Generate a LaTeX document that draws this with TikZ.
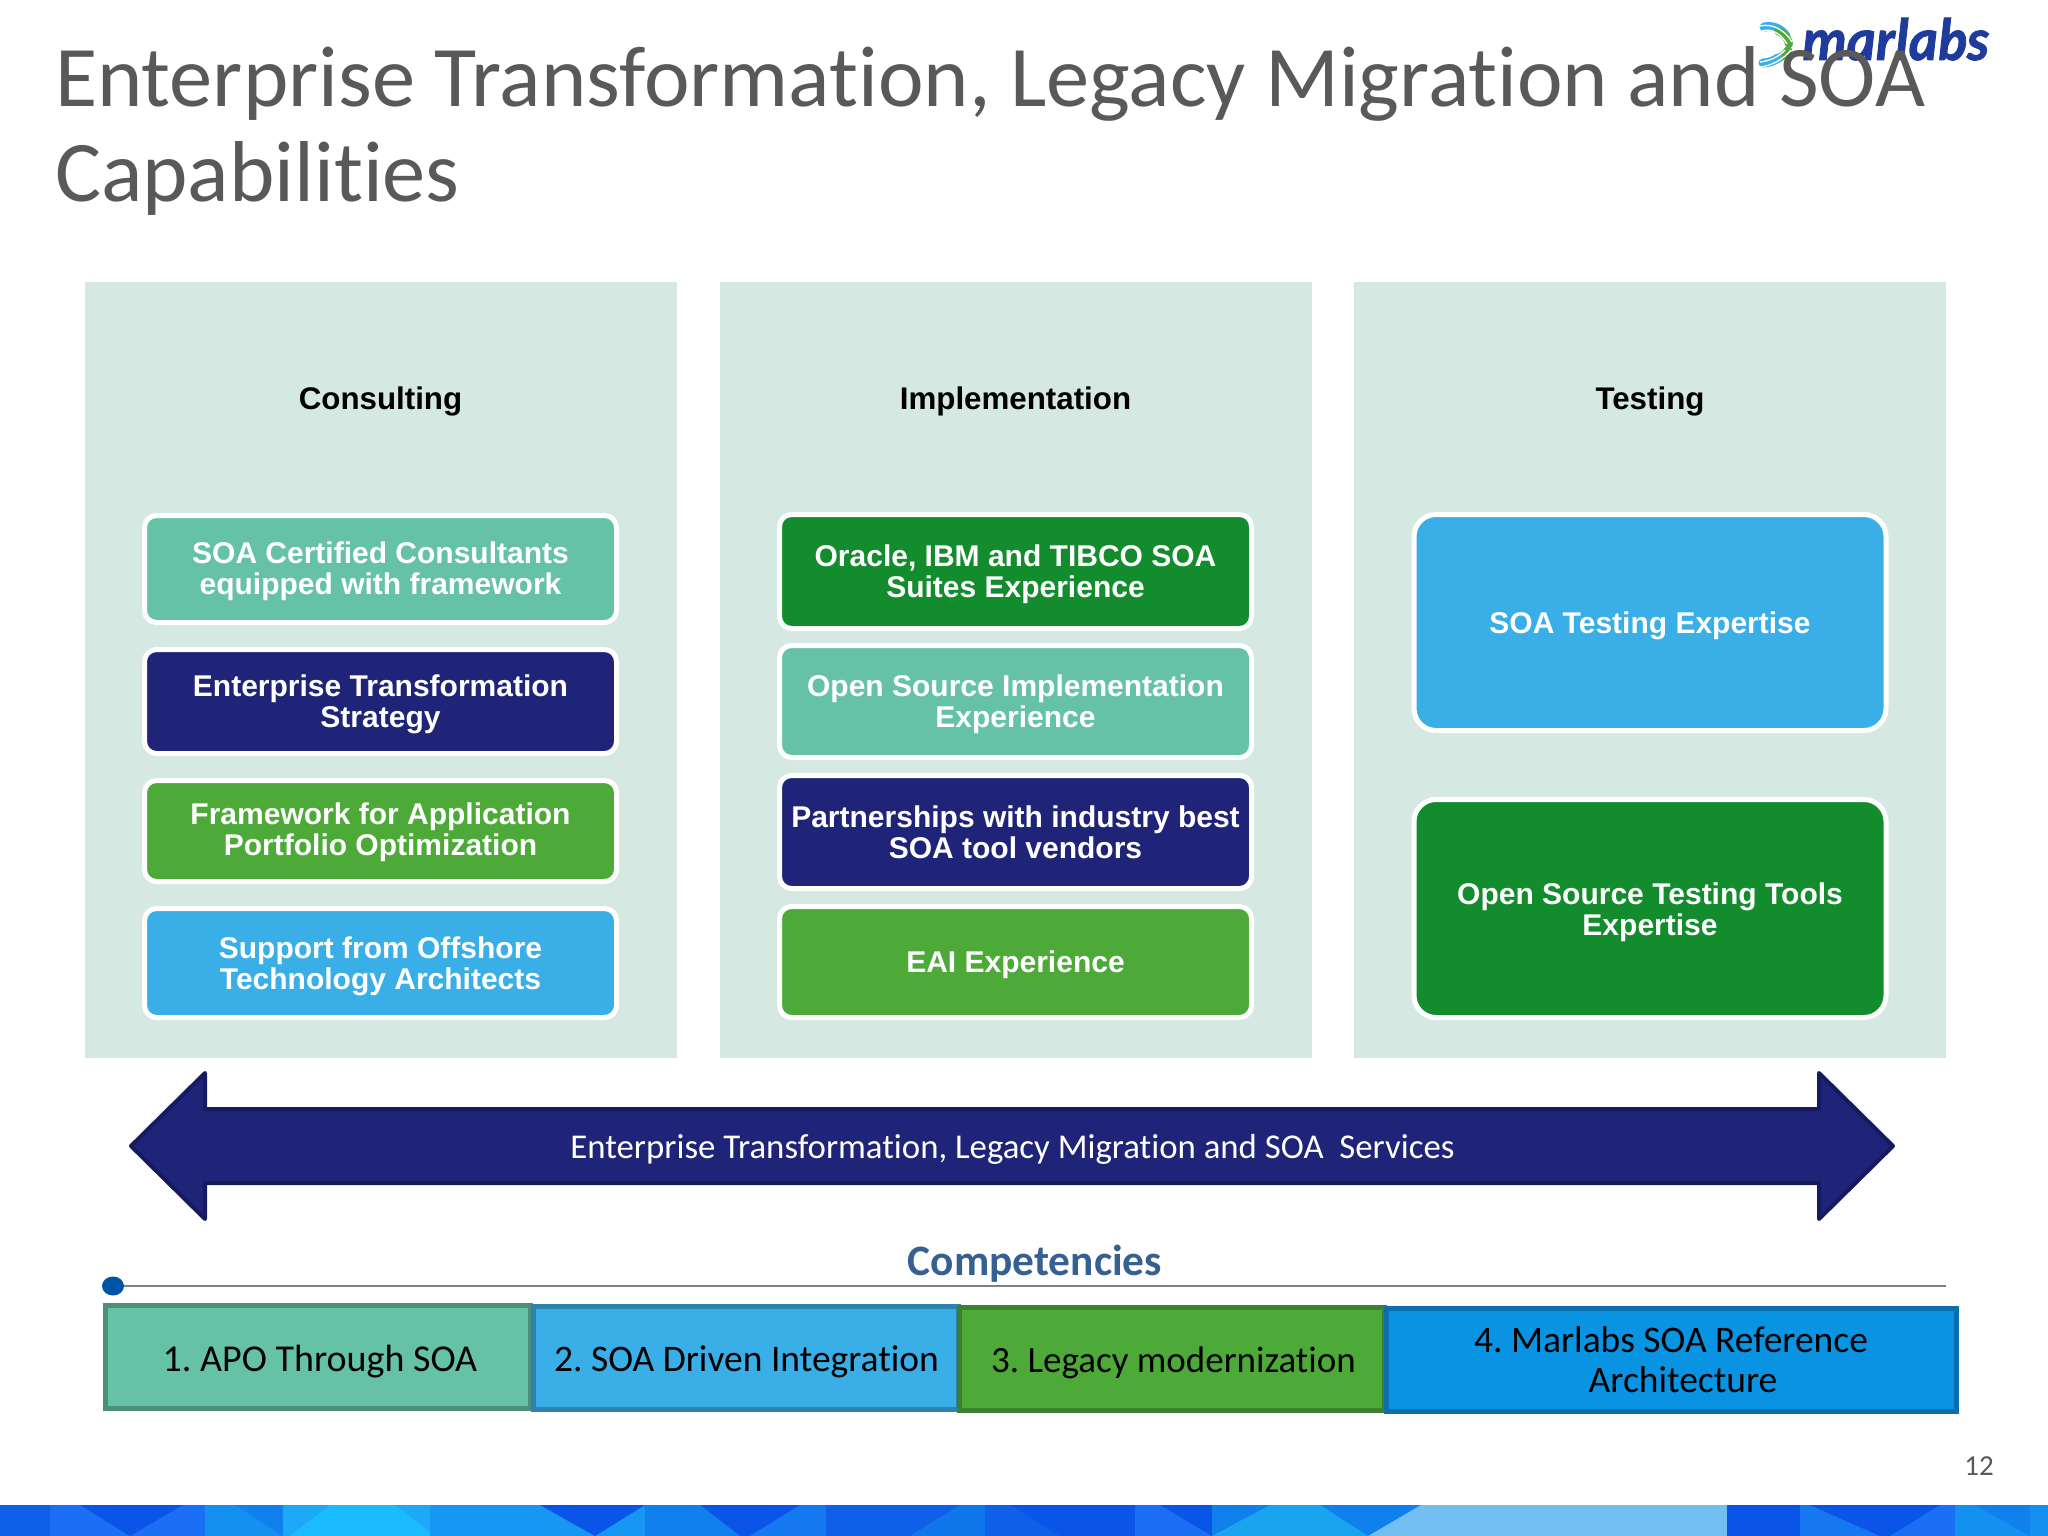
\documentclass[tikz,border=0pt]{standalone}
\usepackage{fontspec}
\usetikzlibrary{shapes.geometric}
\setmainfont{Liberation Sans}
\newfontfamily\carl[Ligatures=NoCommon]{Carlito}
\newfontfamily\logof[BoldItalicFeatures={FakeBold=1.5}]{Carlito}
\frenchspacing
\definecolor{panel}{HTML}{D5E8E1}
\definecolor{mint}{HTML}{66C2A7}
\definecolor{navy}{HTML}{1F2478}
\definecolor{navyedge}{HTML}{161A5E}
\definecolor{grass}{HTML}{4DAA38}
\definecolor{sky}{HTML}{3AAEE6}
\definecolor{forest}{HTML}{128C2C}
\definecolor{azure}{HTML}{0894E2}
\definecolor{titlegray}{HTML}{595959}
\definecolor{logoblue}{HTML}{1F3C9C}
\definecolor{comphead}{HTML}{366092}
\definecolor{dotblue}{HTML}{0054A6}
\definecolor{mintedge}{HTML}{4C8F7B}
\definecolor{skyedge}{HTML}{2C83AE}
\definecolor{grassedge}{HTML}{3C8030}
\definecolor{azureedge}{HTML}{0C6EAD}
\definecolor{bandA}{HTML}{0F5FE8}
\definecolor{bandB}{HTML}{1A6FF5}
\definecolor{bandC}{HTML}{0A55E8}
\definecolor{bandD}{HTML}{1490F0}
\definecolor{bandE}{HTML}{1EA8F8}
\definecolor{bandF}{HTML}{1ABBFF}
\definecolor{bandG}{HTML}{1080EC}
\definecolor{bandH}{HTML}{18A4EE}
\definecolor{bandL}{HTML}{72BEF0}
\tikzset{
  panelbox/.style={fill=panel,draw=none,minimum width=592pt,minimum height=776pt,outer sep=0pt,inner sep=0pt},
  head/.style={font=\fontsize{31.3}{31.4}\selectfont\bfseries,text=black,inner sep=0pt},
  card/.style={draw=white,line width=5pt,rounded corners=12pt,minimum width=472pt,outer sep=0pt,inner sep=0pt},
  cardtext/.style={text=white,align=center,inner sep=0pt,font=\fontsize{30}{31.4}\selectfont\bfseries},
  comp/.style={line width=5pt,minimum height=103pt,outer sep=0pt,inner sep=0pt},
  comptext/.style={text=black,align=center,inner sep=0pt,font=\carl\fontsize{37.5}{40}\selectfont},
}
\begin{document}
\begin{tikzpicture}[x=1pt,y=-1pt]
\useasboundingbox (0,0) rectangle (2048,1536);
\fill[white] (0,0) rectangle (2048,1536);
% bottom band
\fill[bandA] (0,1505) rectangle (50,1536);
\fill[bandB] (50,1505) rectangle (205,1536);
\fill[bandC] (80,1505) -- (183,1505) -- (130,1536) -- cycle;
\fill[bandD] (205,1505) rectangle (283,1536);
\fill[bandG] (235,1505) -- (283,1505) -- (283,1536) -- cycle;
\fill[bandE] (283,1505) rectangle (430,1536);
\fill[bandF] (330,1505) -- (395,1505) -- (435,1536) -- (290,1536) -- cycle;
\fill[bandD!70!bandE] (430,1505) rectangle (645,1536);
\fill[bandC] (540,1505) -- (645,1505) -- (595,1536) -- cycle;
\fill[bandG] (645,1505) rectangle (745,1536);
\fill[bandC] (700,1505) rectangle (826,1536);
\fill[bandG] (700,1505) -- (700,1536) -- (740,1536) -- cycle;
\fill[bandG!60!bandB] (750,1536) -- (800,1505) -- (826,1505) -- (826,1536) -- cycle;
\fill[bandA] (826,1505) rectangle (1135,1536);
\fill[bandG!70!bandA] (910,1536) -- (960,1505) -- (985,1505) -- (985,1536) -- cycle;
\fill[bandC] (1010,1505) -- (1135,1505) -- (1135,1536) -- (1060,1536) -- cycle;
\fill[bandB] (1135,1505) rectangle (1212,1536);
\fill[bandC] (1160,1505) -- (1212,1505) -- (1212,1536) -- cycle;
\fill[bandG] (1212,1505) rectangle (1421,1536);
\fill[bandH] (1212,1536) -- (1270,1505) -- (1320,1505) -- (1368,1536) -- cycle;
\fill[bandL] (1421,1505) -- (1727,1505) -- (1727,1536) -- (1368,1536) -- cycle;
\fill[bandC] (1727,1505) rectangle (1800,1536);
\fill[bandB!50!bandG] (1800,1505) rectangle (1880,1536);
\fill[bandC] (1810,1505) -- (1880,1505) -- (1880,1536) -- cycle;
\fill[bandC] (1880,1505) rectangle (1955,1536);
\fill[bandB] (1890,1536) -- (1940,1505) -- (1955,1505) -- (1955,1536) -- cycle;
\fill[bandD] (1955,1505) rectangle (2048,1536);
\fill[bandG] (1975,1505) -- (2030,1505) -- (2030,1536) -- cycle;
% logo
\draw[sky,line width=9pt,line cap=round] (1764,27) .. controls (1774,25) and (1782,30) .. (1786,36);
\draw[grass,line width=8pt,line cap=round] (1778,31) .. controls (1784,34) and (1788,38) .. (1789,44);
\draw[white,line width=1.3pt] (1760,26) .. controls (1772,23) and (1785,30) .. (1792,42);
\draw[white,line width=1.3pt] (1762,31) .. controls (1772,28) and (1781,34) .. (1787,44);
\draw[grass,line width=8pt,line cap=round] (1788,50) .. controls (1786,54) and (1781,58) .. (1776,59);
\draw[sky,line width=9pt,line cap=round] (1778,58) .. controls (1774,61) and (1768,63) .. (1763,63);
\draw[white,line width=1.3pt] (1791,50) .. controls (1785,58) and (1772,66) .. (1760,67);
\draw[white,line width=1.3pt] (1785,50) .. controls (1780,56) and (1770,61) .. (1760,62);
\node[anchor=base west,inner sep=0pt,text=logoblue,font=\logof\fontsize{60}{60}\selectfont\bfseries\itshape] (logo) at (1802,60) {\scalebox{.92}[1]{marlabs}};
% title
\node[anchor=north west,inner sep=0pt,align=left,text=titlegray,font=\carl\fontsize{86.4}{95}\selectfont] (title) at (55,46) {Enterprise Transformation, Legacy Migration and SOA\\Capabilities};
% panels
\node[panelbox] (p1) at (380.5,670) {};
\node[panelbox] (p2) at (1015.5,670) {};
\node[panelbox] (p3) at (1650,670) {};
\node[head] (h1) at (380.5,401) {Consulting};
\node[head] (h2) at (1015.5,401) {Implementation};
\node[head] (h3) at (1650,401) {Testing};
% consulting
\node[card,fill=mint,minimum height=107pt] (a1) at (380.5,569) {};
\node[card,fill=navy,minimum height=104pt] (a2) at (380.5,701.5) {};
\node[card,fill=grass,minimum height=101pt] (a3) at (380.5,831) {};
\node[card,fill=sky,minimum height=109pt] (a4) at (380.5,963) {};
\node[cardtext] (a1t) at ([yshift=-2.5pt]a1.center) {SOA Certified Consultants\\equipped with framework};
\node[cardtext] (a2t) at ([yshift=-3pt]a2.center) {Enterprise Transformation\\Strategy};
\node[cardtext] (a3t) at ([yshift=-1.5pt]a3.center) {Framework for Application\\Portfolio Optimization};
\node[cardtext] (a4t) at ([yshift=-3pt]a4.center) {Support from Offshore\\Technology Architects};
% implementation
\node[card,fill=forest,minimum height=114pt] (b1) at (1015.5,571.5) {};
\node[card,fill=mint,minimum height=112pt] (b2) at (1015.5,701.5) {};
\node[card,fill=navy,minimum height=113pt] (b3) at (1015.5,832) {};
\node[card,fill=grass,minimum height=111pt] (b4) at (1015.5,962) {};
\node[cardtext] (b1t) at ([yshift=-2.5pt]b1.center) {Oracle, IBM and TIBCO SOA\\Suites Experience};
\node[cardtext] (b2t) at ([yshift=-2.5pt]b2.center) {Open Source Implementation\\Experience};
\node[cardtext] (b3t) at (b3.center) {Partnerships with industry best\\SOA tool vendors};
\node[cardtext] (b4t) at ([yshift=-2.5pt]b4.center) {EAI Experience};
% testing
\node[card,rounded corners=22pt,fill=sky,minimum height=216pt] (c1) at (1650,622.5) {};
\node[card,rounded corners=22pt,fill=forest,minimum height=218pt] (c2) at (1650,908.5) {};
\node[cardtext] (c1t) at ([yshift=-3.5pt]c1.center) {SOA Testing Expertise};
\node[cardtext] (c2t) at ([yshift=-3.5pt]c2.center) {Open Source Testing Tools\\Expertise};
% arrow
\draw[draw=navyedge,fill=navy,line width=4pt,line join=round]
  (131,1146) -- (205,1073) -- (205,1109) -- (1819,1109) -- (1819,1073) -- (1893,1146) -- (1819,1219) -- (1819,1183) -- (205,1183) -- (205,1219) -- cycle;
\node[inner sep=0pt,text=white,font=\carl\fontsize{34.8}{36}\selectfont] (arrowtext) at (1012.5,1149) {Enterprise Transformation, Legacy Migration and SOA\ \ Services};
% competencies
\node[inner sep=0pt,text=comphead,font=\carl\fontsize{43.4}{44}\selectfont\bfseries] (comptitle) at (1035,1263.5) {Competencies};
\node[ellipse,fill=dotblue,minimum width=22pt,minimum height=19pt,inner sep=0pt,outer sep=0pt] (dot) at (113,1286) {};
\coordinate (lineend) at (1946,1286);
\draw[gray,line width=2pt] (dot) -- (lineend);
\node[comp,draw=mintedge,fill=mint,minimum width=425pt] (d1) at (317.5,1357) {};
\node[comp,draw=skyedge,fill=sky,minimum width=425pt] (d2) at (746,1358) {};
\node[comp,draw=grassedge,fill=grass,minimum width=425pt] (d3) at (1172,1359) {};
\node[comp,draw=azureedge,fill=azure,minimum width=570pt] (d4) at (1671,1359.5) {};
\node[comptext,font=\carl\fontsize{38}{40}\selectfont] (d1t) at (320,1361.5) {1. APO Through SOA};
\node[comptext] (d2t) at (746.5,1362) {2. SOA Driven Integration};
\node[comptext,font=\carl\fontsize{37}{40}\selectfont] (d3t) at (1173.5,1363) {3. Legacy modernization};
\node[comptext] (d4t) at (1683,1360) {4. Marlabs SOA Reference\hspace*{24pt}\\Architecture};
\node[inner sep=0pt,text=titlegray,font=\carl\fontsize{29}{30}\selectfont] (pageno) at (1979,1466) {12};
\end{tikzpicture}
\end{document}
